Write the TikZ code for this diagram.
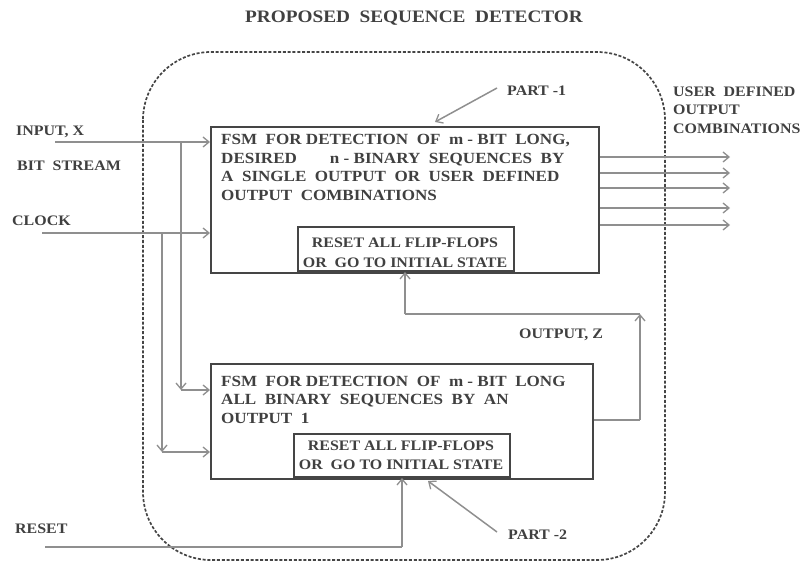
\documentclass[tikz,border=0pt]{standalone}
\usepackage{fontspec}
\setmainfont{Liberation Serif}[FakeStretch=1.1]
\usetikzlibrary{arrows.meta}
\definecolor{txt}{HTML}{404040}
\definecolor{boxc}{HTML}{454545}
\definecolor{wire}{HTML}{8F8F8F}
\begin{document}
\begin{tikzpicture}[x=1pt,y=-1pt,
  txtstyle/.style={text=txt,font=\bfseries\fontsize{15.5}{18}\selectfont,inner sep=0pt},
  rsttxt/.style={text=txt,font=\bfseries\fontsize{14.5}{17}\selectfont,inner sep=0pt,anchor=base},
  lbl/.style={text=txt,font=\bfseries\fontsize{14.5}{17}\selectfont,inner sep=0pt,anchor=base west},
  fsmbox/.style={draw=boxc,line width=2.4pt,inner sep=0pt},
  wireline/.style={draw=wire,line width=1.5pt},
  arr/.style={wireline,-{Straight Barb[length=6pt,width=10pt,line width=1.3pt]}},
  dashbox/.style={draw=boxc,line width=1.7pt,dash pattern=on 3pt off 1.8pt,rounded corners=68pt}
]
\useasboundingbox (0,0) rectangle (810,561);
% title
\node[text=txt,font=\bfseries\fontsize{17.5}{20}\selectfont,inner sep=0pt] (title) at (414,18) {PROPOSED\ \ SEQUENCE\ \ DETECTOR};
% dashed enclosure
\draw[dashbox] (143,52) rectangle (665,560);
% boxes
\node[fsmbox,minimum width=388pt,minimum height=146pt,anchor=north west] (b1) at (210,126) {};
\node[fsmbox,minimum width=216pt,minimum height=44pt,anchor=south west] (r1) at (297,272) {};
\node[fsmbox,minimum width=382pt,minimum height=115pt,anchor=north west] (b2) at (210,363) {};
\node[fsmbox,minimum width=216pt,minimum height=43pt,anchor=south west] (r2) at (293,478) {};
% box texts
\node[txtstyle,anchor=base west] (t11) at (221,144.5) {FSM\ \ FOR DETECTION\ \ OF\ \ m - BIT\ \ LONG,};
\node[txtstyle,anchor=base west] (t12) at (221,163.5) {DESIRED\hspace{33pt}n - BINARY\ \ SEQUENCES\ \ BY};
\node[txtstyle,anchor=base west] (t13) at (221,181.5) {A\ \ SINGLE\ \ OUTPUT\ \ OR\ \ USER\ \ DEFINED};
\node[txtstyle,anchor=base west] (t14) at (221,200.5) {OUTPUT\ \ COMBINATIONS};
\node[rsttxt] (t15) at (405,247.5) {RESET ALL FLIP-FLOPS};
\node[rsttxt] (t16) at (405,267.5) {OR\ \ GO TO INITIAL STATE};
\node[txtstyle,anchor=base west] (t21) at (221,386.5) {FSM\ \ FOR DETECTION\ \ OF\ \ m - BIT\ \ LONG};
\node[txtstyle,anchor=base west] (t22) at (221,404.5) {ALL\ \ BINARY\ \ SEQUENCES\ \ BY\ \ AN};
\node[txtstyle,anchor=base west] (t23) at (221,423.5) {OUTPUT\ \ 1};
\node[rsttxt] (t24) at (401,450.5) {RESET ALL FLIP-FLOPS};
\node[rsttxt] (t25) at (401,469.5) {OR\ \ GO TO INITIAL STATE};
% outer labels
\node[lbl] (linput) at (16,135.5) {INPUT, X};
\node[lbl] (lbit) at (17,170.5) {BIT\ \ STREAM};
\node[lbl] (lclock) at (12,225.5) {CLOCK};
\node[lbl] (lreset) at (15,533.5) {RESET};
\node[lbl] (lpart1) at (507,95.5) {PART -1};
\node[lbl] (lpart2) at (508,539.5) {PART -2};
\node[lbl] (lz) at (519,338.5) {OUTPUT, Z};
\node[lbl] (lu1) at (673,96.5) {USER\ \ DEFINED};
\node[lbl] (lu2) at (673,114.5) {OUTPUT};
\node[lbl] (lu3) at (673,133.5) {COMBINATIONS};
% coordinates
\coordinate (inS) at (55,142);
\coordinate (ckS) at (42,233);
\coordinate (inB) at (181,142);
\coordinate (ckB) at (162,233);
\coordinate (inD) at (181,390);
\coordinate (ckD) at (162,452);
\coordinate (rsS) at (45,547);
\coordinate (rsC) at (402,547);
\coordinate (zA) at (640,420);
\coordinate (zT) at (640,314);
\coordinate (zL) at (405,314);
\coordinate (p1S) at (497,88);
\coordinate (p1E) at (435,122);
\coordinate (p2S) at (497,532);
\coordinate (p2E) at (428,481);
% inputs
\draw[arr] (inS) -- (inS -| b1.west);
\draw[arr] (ckS) -- (ckS -| b1.west);
\draw[arr] (inB) -- (inD);
\draw[arr] (inD) -- (inD -| b2.west);
\draw[arr] (ckB) -- (ckD);
\draw[arr] (ckD) -- (ckD -| b2.west);
% reset
\draw[wireline] (rsS) -- (rsC);
\draw[arr] (rsC) -- (rsC |- r2.south);
% output z feedback
\draw[wireline] (zA -| b2.east) -- (zA);
\draw[arr] (zA) -- (zT);
\draw[wireline] (zT) -- (zL);
\draw[arr] (zL) -- (zL |- r1.south);
% outputs
\foreach \yy/\nm in {157/o1,173/o2,188/o3,208/o4,225/o5}{
  \coordinate (\nm) at (730,\yy);
  \draw[arr] (\nm -| b1.east) -- (\nm);
}
% part arrows
\draw[arr] (p1S) -- (p1E);
\draw[arr] (p2S) -- (p2E);
\end{tikzpicture}
\end{document}
